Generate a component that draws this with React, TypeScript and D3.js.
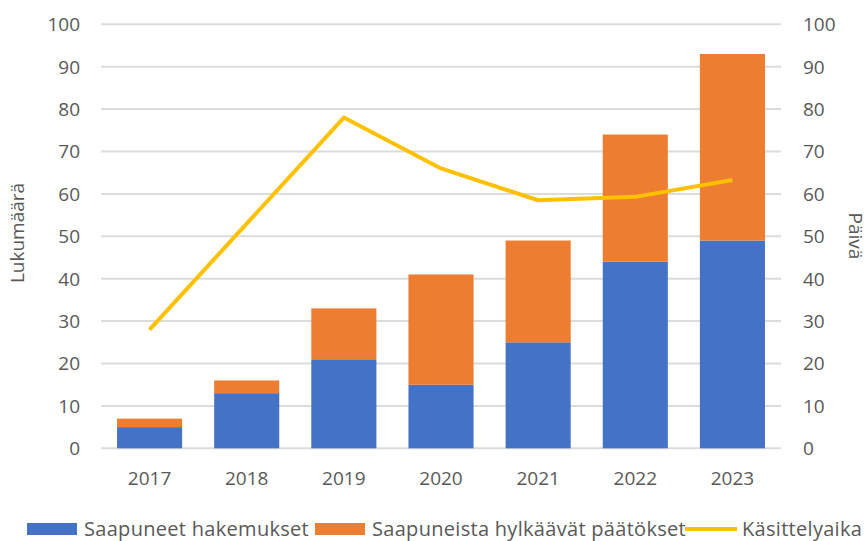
import React from "react";
import * as d3 from "d3";

const years = ["2017", "2018", "2019", "2020", "2021", "2022", "2023"];
const saapuneet = [5, 13, 21, 15, 25, 44, 49];
const hylkaavat = [2, 3, 12, 26, 24, 30, 44];
const kasittelyaika = [28, 53, 78, 66, 58.5, 59.3, 63.3];
const yTicks = [0, 10, 20, 30, 40, 50, 60, 70, 80, 90, 100];
const seriesNames = ["Saapuneet hakemukset", "Saapuneista hylkäävät päätökset", "Käsittelyaika"];

const W = 868;
const H = 541;
const BLUE = "#4472C4";
const ORANGE = "#ED7D31";
const YELLOW = "#FFC000";
const TEXT = "#595959";
const FONT = "'Open Sans', 'Liberation Sans', sans-serif";

export default function App() {
  const x = d3.scaleBand<string>().domain(years).range([101, 781]).paddingInner(0.33).paddingOuter(0.165);
  const y = d3.scaleLinear().domain([0, 100]).range([448.3, 24.3]);
  const y2 = d3.scaleLinear().domain([0, 100]).range([448.3, 24.3]);

  const stackData = years.map((yr, i) => ({ year: yr, a: saapuneet[i], b: hylkaavat[i] }));
  const stacked = d3.stack<any>().keys(["a", "b"])(stackData);
  const colors = [BLUE, ORANGE];

  const line = d3
    .line<number>()
    .x((_, i) => (x(years[i]) as number) + x.bandwidth() / 2)
    .y((d) => y2(d));

  const legendItems = [
    { name: seriesNames[0], color: BLUE, type: "bar", x: 27 },
    { name: seriesNames[1], color: ORANGE, type: "bar", x: 315 },
    { name: seriesNames[2], color: YELLOW, type: "line", x: 685 },
  ];

  return (
    <div style={{ position: "absolute", left: 0, top: 0 }}>
      <svg width={W} height={H} style={{ display: "block", background: "#fff" }} fontFamily={FONT}>
        {/* grid */}
        {yTicks.map((t) => (
          <line key={"g" + t} x1={101} x2={781} y1={y(t)} y2={y(t)} stroke="#dcdcdc" strokeWidth={2} />
        ))}
        {/* bars */}
        {stacked.map((s, si) =>
          s.map((d, i) => (
            <rect
              key={si + "-" + i}
              x={x(years[i])}
              width={x.bandwidth()}
              y={y(d[1])}
              height={y(d[0]) - y(d[1])}
              fill={colors[si]}
            />
          ))
        )}
        {/* line */}
        <path d={line(kasittelyaika) || ""} fill="none" stroke={YELLOW} strokeWidth={4} strokeLinejoin="round" />
        {/* left axis labels */}
        {yTicks.map((t) => (
          <text key={"l" + t} x={80} y={y(t)} dy="0.36em" textAnchor="end" fontSize={19} fill={TEXT}>
            {t}
          </text>
        ))}
        {/* right axis labels */}
        {yTicks.map((t) => (
          <text key={"r" + t} x={803} y={y2(t)} dy="0.36em" textAnchor="start" fontSize={19} fill={TEXT}>
            {t}
          </text>
        ))}
        {/* x labels */}
        {years.map((yr) => (
          <text
            key={"x" + yr}
            x={(x(yr) as number) + x.bandwidth() / 2}
            y={478}
            dy="0.36em"
            textAnchor="middle"
            fontSize={19}
            fill={TEXT}
          >
            {yr}
          </text>
        ))}
        {/* axis titles */}
        <text transform="translate(24,233) rotate(-90)" textAnchor="middle" fontSize={19} fill={TEXT}>
          Lukumäärä
        </text>
        <text transform="translate(849,236) rotate(90)" textAnchor="middle" fontSize={19} fill={TEXT}>
          Päivä
        </text>
        {/* legend */}
        {legendItems.map((it) => (
          <g key={it.name} transform={`translate(${it.x},529)`}>
            {it.type === "bar" ? (
              <rect x={0} y={-6} width={50} height={12} fill={it.color} />
            ) : (
              <line x1={0} x2={52} y1={0} y2={0} stroke={it.color} strokeWidth={4} />
            )}
            <text x={57} y={0} dy="0.36em" fontSize={20} letterSpacing={0.3} fill={TEXT}>
              {it.name}
            </text>
          </g>
        ))}
      </svg>
    </div>
  );
}
